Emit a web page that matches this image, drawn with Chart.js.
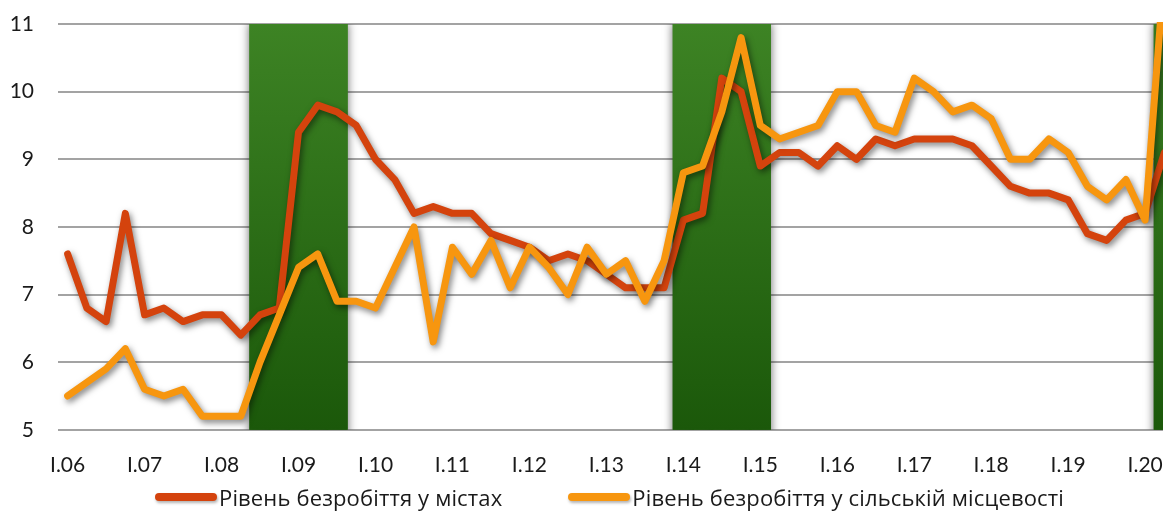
<!DOCTYPE html>
<html><head><meta charset="utf-8">
<script src="https://cdn.jsdelivr.net/npm/chart.js@4.4.1/dist/chart.umd.min.js"></script>
<style>
html,body{margin:0;padding:0;background:#fff;overflow:hidden;width:1163px;height:518px;}
#wrap{position:absolute;left:0;top:0;width:1180px;height:518px;}
#legend{position:absolute;left:155px;top:484px;height:26px;display:flex;align-items:center;font-family:"Open Sans",Lato,sans-serif;font-size:22px;letter-spacing:0.15px;color:#1a1a1a;white-space:nowrap;}
.item{display:flex;align-items:center;margin-right:66px;}
.sw{width:62px;height:8px;border-radius:4px;margin-right:2px;box-shadow:1px 2px 3px rgba(0,0,0,0.3);}
</style></head><body>
<div id="wrap"><canvas id="c"></canvas></div>
<div id="legend"></div>
<script>
const quarters = [
 'I.06','II.06','III.06','IV.06','I.07','II.07','III.07','IV.07',
 'I.08','II.08','III.08','IV.08','I.09','II.09','III.09','IV.09',
 'I.10','II.10','III.10','IV.10','I.11','II.11','III.11','IV.11',
 'I.12','II.12','III.12','IV.12','I.13','II.13','III.13','IV.13',
 'I.14','II.14','III.14','IV.14','I.15','II.15','III.15','IV.15',
 'I.16','II.16','III.16','IV.16','I.17','II.17','III.17','IV.17',
 'I.18','II.18','III.18','IV.18','I.19','II.19','III.19','IV.19',
 'I.20','II.20'
];
const urban = [
 7.6,6.8,6.6,8.2, 6.7,6.8,6.6,6.7, 6.7,6.4,6.7,6.8, 9.4,9.8,9.7,9.5,
 9.0,8.7,8.2,8.3, 8.2,8.2,7.9,7.8, 7.7,7.5,7.6,7.5, 7.3,7.1,7.1,7.1,
 8.1,8.2,10.2,10.0, 8.9,9.1,9.1,8.9, 9.2,9.0,9.3,9.2, 9.3,9.3,9.3,9.2,
 8.9,8.6,8.5,8.5, 8.4,7.9,7.8,8.1, 8.2,9.1
];
const rural = [
 5.5,5.7,5.9,6.2, 5.6,5.5,5.6,5.2, 5.2,5.2,6.0,6.7, 7.4,7.6,6.9,6.9,
 6.8,7.4,8.0,6.3, 7.7,7.3,7.8,7.1, 7.7,7.4,7.0,7.7, 7.3,7.5,6.9,7.5,
 8.8,8.9,9.7,10.8, 9.5,9.3,9.4,9.5, 10.0,10.0,9.5,9.4, 10.2,10.0,9.7,9.8,
 9.6,9.0,9.0,9.3, 9.1,8.6,8.4,8.7, 8.1,11.8
];
const recessionQuarters = ['III.08','IV.08','I.09','II.09','III.09','I.14','II.14','III.14','IV.14','I.15','II.20'];
const yTicks = [5,6,7,8,9,10,11];
const seriesNames = ['Рівень безробіття у містах','Рівень безробіття у сільській місцевості'];

const yMin = yTicks[0], yMax = yTicks[yTicks.length-1];
const recession = quarters.map(q => recessionQuarters.includes(q) ? yMax : null);

const shadowPlugin = {
  id:'shadows',
  beforeDatasetDraw(chart, args){
    const ds = chart.data.datasets[args.index];
    const c = chart.ctx; c.save();
    if (ds.shadowPass){ c.shadowColor='rgba(0,0,0,0.6)'; c.shadowBlur=10; c.shadowOffsetX=0; c.shadowOffsetY=0; }
    else if (ds.type === 'line'){ c.shadowColor='rgba(0,0,0,0.5)'; c.shadowBlur=6; c.shadowOffsetX=2; c.shadowOffsetY=3; }
  },
  afterDatasetDraw(chart){ chart.ctx.restore(); }
};
function bandFill(c){
  const a=c.chart.chartArea; if(!a) return '#2a6e15';
  const g=c.chart.ctx.createLinearGradient(0,a.top,0,a.bottom);
  g.addColorStop(0,'#3d8324'); g.addColorStop(1,'#1b580a'); return g;
}

const chart = new Chart(document.getElementById('c'), {
  data:{
    labels: quarters,
    datasets:[
      {type:'line', label:seriesNames[0], data:urban, borderColor:'#d4430d', backgroundColor:'#d4430d', borderWidth:7, pointRadius:0, tension:0, borderJoinStyle:'round', borderCapStyle:'round', order:2},
      {type:'line', label:seriesNames[1], data:rural, borderColor:'#f7960f', backgroundColor:'#f7960f', borderWidth:7, pointRadius:0, tension:0, borderJoinStyle:'round', borderCapStyle:'round', order:1, clip:2},
      {type:'bar', label:'recession', data:recession, borderWidth:0, inflateAmount:1, categoryPercentage:1, barPercentage:1, order:3, backgroundColor:bandFill},
      {type:'bar', label:'recession shadow', shadowPass:true, data:recession, borderWidth:0, inflateAmount:1, categoryPercentage:1, barPercentage:1, order:4, backgroundColor:bandFill}
    ]
  },
  options:{
    responsive:true, maintainAspectRatio:false, animation:false,
    layout:{padding:{top:24,right:6,bottom:25,left:0}},
    plugins:{legend:{display:false}, tooltip:{enabled:false}},
    scales:{
      x:{type:'category', offset:true, grid:{display:false}, border:{display:false},
        ticks:{autoSkip:false, maxRotation:0, padding:15, color:'#1a1a1a', font:{family:'Lato', size:21},
          callback(v){ const l=this.getLabelForValue(v); return /^I\./.test(l) ? l : ''; }}},
      y:{min:yMin, max:yMax, afterBuildTicks(s){ s.ticks = yTicks.map(v=>({value:v})); },
        ticks:{padding:0, color:'#1a1a1a', font:{family:'Lato', size:21}},
        grid:{color:'#a3a3a3', lineWidth:2, drawTicks:true, tickLength:24, tickColor:'rgba(0,0,0,0)'}, border:{display:false},
        afterFit(s){ s.width = 58; }}
    },
    datasets:{bar:{grouped:false}}
  },
  plugins:[shadowPlugin]
});

const legendEl = document.getElementById('legend');
chart.data.datasets.filter(d => d.type === 'line').forEach(d => {
  const item = document.createElement('div'); item.className='item';
  const sw = document.createElement('span'); sw.className='sw'; sw.style.background=d.borderColor;
  const tx = document.createElement('span'); tx.textContent = d.label;
  item.appendChild(sw); item.appendChild(tx); legendEl.appendChild(item);
});
</script>
</body></html>
